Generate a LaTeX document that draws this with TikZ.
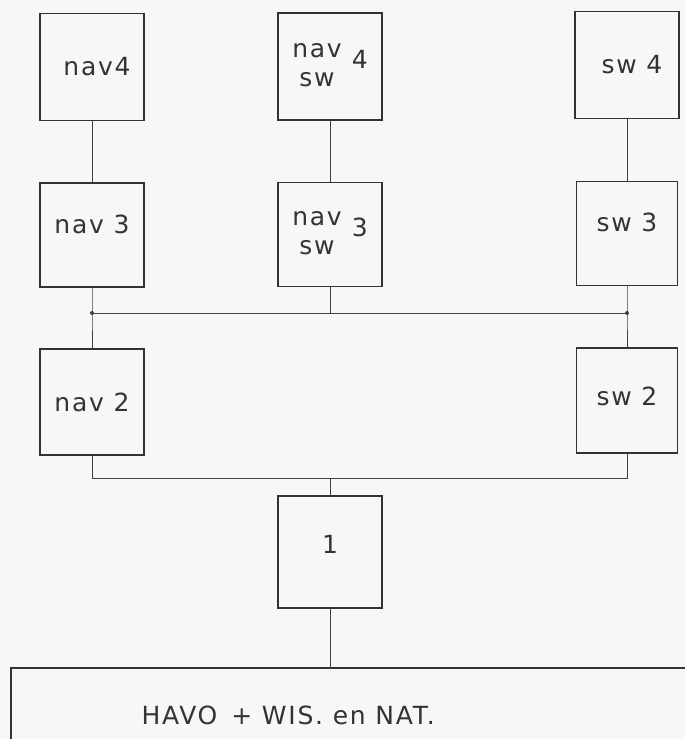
\documentclass[tikz,border=0pt]{standalone}
\usepackage{fontspec}
\setmainfont{DejaVu Sans}[LetterSpace=7]
\usetikzlibrary{positioning,calc}

\begin{document}
\begin{tikzpicture}[x=1pt, y=-1pt, font=\fontsize{25}{29}\selectfont,
  box/.style={draw=black!80, line width=1.6pt, minimum width=104pt, minimum height=107pt, inner sep=0pt, text=black!80},
  link/.style={draw=black!75, line width=0.9pt},
  joint/.style={circle, fill=black!75, inner sep=0pt, minimum size=4pt}]
\useasboundingbox[fill=black!3] (0,0) rectangle (685,739);
\clip (0,0) rectangle (685,739);
% row 4
\node[box] (nav4) at (92,67) {\hspace{10pt}nav4};
\node[box] (navsw4) at (330,66.5) {\begin{tabular}{@{}c@{}}nav\\sw\end{tabular}\hspace{10pt}\raisebox{4pt}{4}};
\node[box] (sw4) at (627,65) {\hspace{10pt}sw 4};
% row 3
\node[box, minimum height=104pt] (nav3) at (92,235) {\raisebox{22pt}{nav 3}};
\node[box, minimum height=104pt] (navsw3) at (330,234.5) {\raisebox{16pt}{\begin{tabular}{@{}c@{}}nav\\sw\end{tabular}}\hspace{10pt}\raisebox{20pt}{3}};
\node[box, minimum width=101pt, minimum height=104pt] (sw3) at (627,233.5) {\raisebox{22pt}{sw 3}};
% row 2
\node[box, minimum height=106pt] (nav2) at (92,402) {nav 2};
\node[box, minimum width=101pt, minimum height=105pt] (sw2) at (627,400.5) {\raisebox{8pt}{sw 2}};
% row 1
\node[box, minimum height=112pt] (one) at (330,552) {\raisebox{16pt}{1}};
% base
\node[box, minimum width=700pt, minimum height=100pt, anchor=north west] (base) at (10,667) {};
\node[anchor=west, text=black!80] (havo) at (138,715) {HAVO\, + WIS. en NAT.};
% links
\foreach \a/\b in {nav4/nav3, navsw4/navsw3, sw4/sw3} \draw[link] (\a.south) -- (\b.north);
\coordinate (busL) at (nav3.south |- 0,313);
\coordinate (busR) at (sw3.south |- 0,313);
\draw[link] (nav3.south) -- (busL) -- (nav2.north);
\draw[link] (sw3.south) -- (busR) -- (sw2.north);
\draw[link] (busL) -- (busR);
\draw[link] (navsw3.south) -- (navsw3.south |- busL);
\node[joint] (jL) at (busL) {};
\node[joint] (jR) at (busR) {};
\coordinate (lowL) at (nav2.south |- 0,478);
\coordinate (lowR) at (sw2.south |- 0,478);
\draw[link] (nav2.south) -- (lowL) -- (lowR) -- (sw2.south);
\draw[link] (one.north) -- (one.north |- lowL);
\draw[link] (one.south) -- (one.south |- base.north);
\end{tikzpicture}
\end{document}
